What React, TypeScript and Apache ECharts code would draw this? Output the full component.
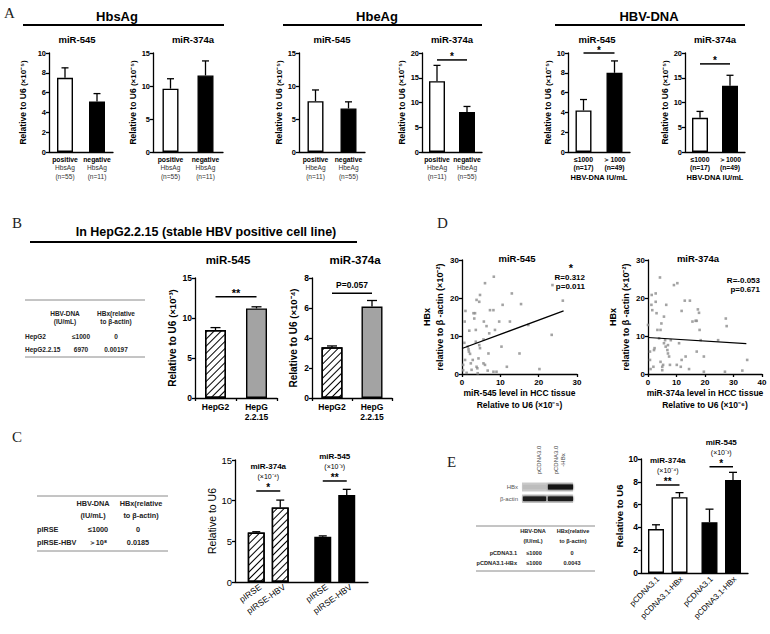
import React, { useEffect, useRef } from 'react';
import * as echarts from 'echarts';

const FONT = '"Liberation Sans", Arial, Helvetica, sans-serif';
const SERIF = '"Liberation Serif", "DejaVu Serif", serif';

// ---------------- Panel A data ----------------
const hbsAgGroups = ['positive', 'negative'];
const hbsAgN = [55, 11];
const hbsAg545Mean = [7.5, 5.1];
const hbsAg545Sem = [1.0, 0.8];
const hbsAg374Mean = [9.6, 11.6];
const hbsAg374Sem = [1.5, 2.2];

const hbeAgGroups = ['positive', 'negative'];
const hbeAgN = [11, 55];
const hbeAg545Mean = [7.7, 6.6];
const hbeAg545Sem = [1.7, 1.0];
const hbeAg374Mean = [14.3, 8.1];
const hbeAg374Sem = [3.2, 1.1];

const dnaGroups = ['≤1000', '＞1000'];
const dnaN = [17, 49];
const dna545Mean = [4.2, 8.0];
const dna545Sem = [1.1, 1.2];
const dna374Mean = [6.9, 13.4];
const dna374Sem = [1.3, 2.1];

// ---------------- Panel B data ----------------
const bCells = ['HepG2', 'HepG\n2.2.15'];
const b545Mean = [8.5, 11.2];
const b545Sem = [0.3, 0.2];
const b374Mean = [3.38, 6.1];
const b374Sem = [0.09, 0.4];

// ---------------- Panel C data ----------------
const cGroups = ['miR-374a', 'miR-545'];
const cVectors = ['pIRSE', 'pIRSE-HBV'];
const cCtrlMean = [6.08, 5.55];
const cCtrlSem = [0.1, 0.12];
const cHbvMean = [9.17, 10.69];
const cHbvSem = [0.9, 0.7];

// ---------------- Panel D data ----------------
const d545Points = [
  [0.3, 2.4], [0.3, 1.0], [0.6, 8.2], [0.9, 16.6], [0.7, 13.8], [0.8, 3.7], [1.9, 11.4], [1.7, 6.5],
  [1.8, 5.9], [2.1, 5.3], [1.5, 7.2], [2.3, 2.8], [2.5, 1.1], [2.8, 3.7], [3.0, 16.0], [3.4, 16.0],
  [3.2, 14.6], [3.6, 11.6], [3.8, 19.5], [4.5, 19.0], [4.7, 20.8], [3.6, 8.5], [3.8, 1.9], [4.0, 1.5],
  [4.3, 4.1], [4.5, 7.6], [4.7, 6.8], [5.6, 9.1], [5.7, 13.8], [6.0, 23.9], [5.6, 2.8], [6.0, 2.4],
  [6.7, 0.9], [6.9, 5.4], [6.4, 12.6], [7.1, 10.7], [7.3, 16.8], [8.2, 16.8], [8.3, 25.6], [8.2, 0.6],
  [9.0, 0.6], [8.6, 11.6], [9.7, 13.8], [10.6, 18.2], [10.3, 7.2], [11.7, 1.9], [12.5, 13.8], [13.0, 21.2],
  [15.0, 5.4], [15.4, 18.4], [17.3, 12.9], [20.2, 1.3], [23.4, 10.3], [23.6, 23.4], [26.3, 19.3],
  [1.2, 0.3], [4.1, 0.2],
];
const d545Fit = [[0, 6.7], [26.5, 16.6]];
const d374Points = [
  [0, 12.9], [0.7, 3.7], [0.9, 1.3], [0.7, 5.9], [1.2, 18.2], [1.3, 20.8], [1.5, 16.8], [1.9, 1.9],
  [2.1, 6.3], [2.7, 21.2], [2.7, 19.0], [2.3, 6.8], [3.0, 16.0], [3.3, 11.6], [3.9, 9.4], [4.2, 25.4],
  [4.4, 11.6], [4.4, 3.2], [4.7, 13.3], [5.0, 1.9], [5.0, 1.0], [5.6, 15.1], [5.6, 8.1], [6.0, 8.9],
  [5.3, 2.4], [6.2, 7.2], [6.4, 18.2], [6.8, 6.3], [7.0, 5.4], [7.4, 4.6], [7.7, 2.4], [8.0, 8.9],
  [7.0, 7.6], [9.1, 23.4], [10.3, 23.9], [10.1, 2.4], [10.9, 8.1], [11.8, 3.7], [11.5, 1.9], [11.8, 16.6],
  [12.9, 19.3], [13.2, 4.6], [14.4, 1.3], [14.7, 19.3], [15.6, 13.8], [16.7, 14.0], [17.1, 14.0], [17.5, 17.0],
  [17.9, 16.1], [18.1, 11.6], [18.5, 8.9], [17.1, 5.9], [19.6, 4.6], [24.6, 8.9], [27.3, 14.6], [27.6, 12.6],
  [27.0, 0.6], [33.1, 0.9], [34.8, 3.7], [19.6, 0.6],
];
const d374Fit = [[0, 9.6], [34.5, 8.0]];

// ---------------- Panel E data ----------------
const eGroups = ['miR-374a', 'miR-545'];
const eVectors = ['pCDNA3.1', 'pCDNA3.1-HBx'];
const eCtrlMean = [3.85, 4.46];
const eCtrlSem = [0.38, 1.14];
const eHbxMean = [6.65, 8.16];
const eHbxSem = [0.4, 0.67];

// ---------------- Tables ----------------
const tableHeader = [['HBV-DNA', '(IU/mL)'], ['HBx(relative', 'to β-actin)']];
const tableBRows = [['HepG2', '≤1000', '0'], ['HepG2.2.15', '6970', '0.00197']];
const tableCRows = [['pIRSE', '≤1000', '0'], ['pIRSE-HBV', '＞10⁸', '0.0185']];
const tableERows = [['pCDNA3.1', '≤1000', '0'], ['pCDNA3.1-HBx', '≤1000', '0.0043']];

// ---------------- styles ----------------
const AX = { color: '#000', width: 1.3 };
const whiteBar = { color: '#fff', borderColor: '#000', borderWidth: 1.4 };
const blackBar = { color: '#000', borderColor: '#000', borderWidth: 1.4 };
const grayBar = { color: '#a3a3a3', borderColor: '#000', borderWidth: 1.4 };
const hatchBar = {
  color: '#fff', borderColor: '#000', borderWidth: 1.4,
  decal: { symbol: 'rect', symbolSize: 1, color: '#000', backgroundColor: '#fff', dashArrayX: [1, 0], dashArrayY: [1, 3.8], rotation: -Math.PI / 4 },
};

function buildOption() {
  const grids: any[] = [];
  const xAxes: any[] = [];
  const yAxes: any[] = [];
  const series: any[] = [];
  const graphics: any[] = [];

  const txt = (text: string, x: number, y: number, size: number, o: any = {}) => ({
    type: 'text', x, y, silent: true, z: 20, rotation: o.rotation || 0,
    style: {
      text, fill: o.color || '#000', fontSize: size, fontWeight: o.weight || 'bold', fontFamily: o.family || FONT,
      textAlign: o.align || 'center', align: o.align || 'center',
      textVerticalAlign: 'middle', verticalAlign: 'middle',
    },
  });
  const hline = (x1: number, x2: number, y: number, w = 1.5, c = '#000') => ({
    type: 'line', silent: true, z: 20, shape: { x1, y1: y, x2, y2: y }, style: { stroke: c, lineWidth: w },
  });

  const errorSeries = (gi: number, means: number[], sems: number[], offset: number, cap: number) => ({
    type: 'custom', xAxisIndex: gi, yAxisIndex: gi, z: 5, silent: true, clip: false,
    data: means.map((m, i) => [i, m, sems[i]]),
    encode: { x: 0, y: 1 },
    renderItem: (params: any, api: any) => {
      const i = api.value(0), m = api.value(1), e = api.value(2);
      const p0 = api.coord([i, m]);
      const p1 = api.coord([i, m + e]);
      const x = p0[0] + offset;
      return {
        type: 'group', children: [
          { type: 'line', shape: { x1: x, y1: p0[1], x2: x, y2: p1[1] }, style: { stroke: '#000', lineWidth: 1.3 } },
          { type: 'line', shape: { x1: x - cap, y1: p1[1], x2: x + cap, y2: p1[1] }, style: { stroke: '#000', lineWidth: 1.3 } },
        ],
      };
    },
  });

  const bracketSeries = (gi: number, brackets: any[], off: number) => ({
    type: 'custom', xAxisIndex: gi, yAxisIndex: gi, z: 6, silent: true, clip: false,
    data: brackets.map((b) => [b.c0, b.y, b.c1]),
    encode: { x: 0, y: 1 },
    renderItem: (params: any, api: any) => {
      const b = brackets[params.dataIndex];
      const pa = api.coord([api.value(0), api.value(1)]);
      const pb = api.coord([api.value(2), api.value(1)]);
      const xa = pa[0] + (b.s0 || 0) * off;
      const xb = pb[0] + (b.s1 || 0) * off;
      const children: any[] = [
        { type: 'line', shape: { x1: xa, y1: pa[1], x2: xb, y2: pa[1] }, style: { stroke: '#000', lineWidth: 1.5 } },
      ];
      b.texts.forEach((t: any) => {
        children.push({
          type: 'text', x: (xa + xb) / 2, y: pa[1] + t.dy,
          style: {
            text: t.text, fill: '#000', fontSize: t.size, fontWeight: t.weight || 'bold', fontFamily: FONT,
            textAlign: 'center', align: 'center', textVerticalAlign: 'middle', verticalAlign: 'middle',
          },
        });
      });
      return { type: 'group', children };
    },
  });

  const addBarPanel = (cfg: any) => {
    const gi = grids.length;
    grids.push({ left: cfg.left, top: cfg.top, width: cfg.width, height: cfg.height, containLabel: false, outerBoundsMode: 'none' });
    xAxes.push({
      gridIndex: gi, type: 'category', data: cfg.cats, boundaryGap: true,
      axisLine: { show: true, onZero: false, lineStyle: AX },
      axisTick: { show: !!cfg.xTick, length: 3, lineStyle: AX },
      axisLabel: cfg.xLabel || { show: false },
      splitLine: { show: false },
      name: cfg.xName || '', nameLocation: 'middle', nameGap: cfg.xNameGap || 0,
      nameTextStyle: { fontSize: 7.5, fontWeight: 'bold', color: '#000', fontFamily: FONT },
    });
    yAxes.push({
      gridIndex: gi, type: 'value', min: 0, max: cfg.yMax, interval: cfg.yInterval,
      axisLine: { show: true, lineStyle: AX },
      axisTick: { show: true, length: 3, lineStyle: AX },
      axisLabel: { fontSize: cfg.yLabelSize, fontWeight: cfg.yLabelWeight || 'bold', color: '#000', margin: 3, fontFamily: FONT },
      splitLine: { show: false },
      name: cfg.yName, nameLocation: 'middle', nameRotate: 90, nameGap: cfg.yNameGap,
      nameTextStyle: {
        fontSize: cfg.yNameSize, fontWeight: cfg.yNameWeight || 'bold', color: '#000', fontFamily: FONT,
        rich: cfg.yNameRich,
      },
    });
    cfg.bars.forEach((b: any) => {
      series.push({
        type: 'bar', name: b.name, xAxisIndex: gi, yAxisIndex: gi, barWidth: cfg.barWidth, barGap: cfg.barGap || '30%',
        data: b.means.map((m: number, i: number) => ({ value: m, itemStyle: b.styles[i] })),
        label: b.label || { show: false }, z: 2, silent: true,
      });
      series.push(errorSeries(gi, b.means, b.sems, b.offset || 0, cfg.cap));
    });
    if (cfg.brackets) series.push(bracketSeries(gi, cfg.brackets, cfg.groupOffset || 0));
  };

  // ---- Panel A ----
  const richA = {
    a: { fontSize: 6.8, fontWeight: 'bold', color: '#000', fontFamily: FONT, lineHeight: 8.5 },
    b: { fontSize: 6.6, color: '#333', fontFamily: FONT, lineHeight: 8.5 },
  };
  const yNameRichA = {
    a: { fontSize: 8.5, fontWeight: 'bold', color: '#000', fontFamily: FONT },
    b: { fontSize: 8, color: '#000', fontFamily: FONT },
  };
  const antigenLabel = (sub: string, n: number[]) => ({
    interval: 0, margin: 3,
    formatter: (v: string, i: number) => `{a|${v}}\n{b|${sub}}\n{b|(n=${n[i]})}`,
    rich: richA,
  });
  const dnaLabel = {
    interval: 0, margin: 3,
    formatter: (v: string, i: number) => `{a|${v}}\n{a|(n=${dnaN[i]})}`,
    rich: richA,
  };
  const aBase = { top: 53, height: 99, barWidth: 16, cap: 3.5, yLabelSize: 7.5, yName: '{a|Relative to U6} {b|(×10⁻⁵)}', yNameRich: yNameRichA, yNameSize: 8.5 };
  const star = [{ text: '*', dy: -3, size: 10 }];
  addBarPanel({ ...aBase, left: 49, width: 64, yMax: 10, yInterval: 2, yNameGap: 21.5, cats: hbsAgGroups, xLabel: antigenLabel('HbsAg', hbsAgN),
    bars: [{ means: hbsAg545Mean, sems: hbsAg545Sem, styles: [whiteBar, blackBar] }] });
  addBarPanel({ ...aBase, left: 153, width: 70, yMax: 15, yInterval: 5, yNameGap: 11, cats: hbsAgGroups, xLabel: antigenLabel('HbsAg', hbsAgN),
    bars: [{ means: hbsAg374Mean, sems: hbsAg374Sem, styles: [whiteBar, blackBar] }] });
  addBarPanel({ ...aBase, left: 299, width: 66, yMax: 15, yInterval: 5, yNameGap: 13, cats: hbeAgGroups, xLabel: antigenLabel('HbeAg', hbeAgN),
    bars: [{ means: hbeAg545Mean, sems: hbeAg545Sem, styles: [whiteBar, blackBar] }] });
  addBarPanel({ ...aBase, left: 422, width: 60, yMax: 20, yInterval: 5, yNameGap: 16, cats: hbeAgGroups, xLabel: antigenLabel('HbeAg', hbeAgN),
    bars: [{ means: hbeAg374Mean, sems: hbeAg374Sem, styles: [whiteBar, blackBar] }],
    brackets: [{ c0: 0, c1: 1, y: 18.6, texts: star }] });
  addBarPanel({ ...aBase, left: 568, width: 62, yMax: 10, yInterval: 2, yNameGap: 14, cats: dnaGroups, xLabel: dnaLabel,
    xName: 'HBV-DNA IU/mL', xNameGap: 21,
    bars: [{ means: dna545Mean, sems: dna545Sem, styles: [whiteBar, blackBar] }],
    brackets: [{ c0: 0, c1: 1, y: 10.0, texts: star }] });
  addBarPanel({ ...aBase, left: 685, width: 60, yMax: 20, yInterval: 5, yNameGap: 14, cats: dnaGroups, xLabel: dnaLabel,
    xName: 'HBV-DNA IU/mL', xNameGap: 21,
    bars: [{ means: dna374Mean, sems: dna374Sem, styles: [whiteBar, blackBar] }],
    brackets: [{ c0: 0, c1: 1, y: 17.8, texts: star }] });

  // ---- Panel B ----
  const yNameRichB = {
    a: { fontSize: 10, fontWeight: 'bold', color: '#000', fontFamily: FONT },
    b: { fontSize: 9.5, color: '#000', fontFamily: FONT },
  };
  const bLabel = { interval: 0, margin: 4, fontSize: 8.5, fontWeight: 'bold', color: '#000', fontFamily: FONT, lineHeight: 10 };
  const bBase = { top: 278, height: 120, barWidth: 21, cap: 5, yLabelSize: 8.5, yNameSize: 10, yNameRich: yNameRichB, cats: bCells, xLabel: bLabel, xTick: true };
  addBarPanel({ ...bBase, left: 195, width: 82, yMax: 15, yInterval: 5, yNameGap: 18, yName: '{a|Relative to U6} {b|(×10⁻³)}',
    bars: [{ means: b545Mean, sems: b545Sem, styles: [hatchBar, grayBar] }],
    brackets: [{ c0: 0, c1: 1, y: 12.65, texts: [{ text: '**', dy: -4, size: 11 }] }] });
  addBarPanel({ ...bBase, left: 312, width: 80, yMax: 8, yInterval: 2, yNameGap: 14, yName: '{a|Relative to U6} {b|(×10⁻⁴)}',
    bars: [{ means: b374Mean, sems: b374Sem, styles: [hatchBar, grayBar] }],
    brackets: [{ c0: 0, c1: 1, y: 6.98, texts: [{ text: 'P=0.057', dy: -8, size: 8.5 }] }] });

  // ---- Panel C ----
  const cLabel = (name: string) => ({
    show: true, position: 'bottom', distance: 7, rotate: 35, align: 'right', verticalAlign: 'middle', offset: [5, 0],
    formatter: name, fontSize: 8.5, color: '#000', fontFamily: FONT,
  });
  const grpTexts = (stars: string, exp: string, name: string) => [
    { text: stars, dy: -3, size: 10 },
    { text: `(×10${exp})`, dy: -14, size: 7, weight: 'normal' },
    { text: name, dy: -24, size: 8 },
  ];
  addBarPanel({
    left: 235, top: 460, width: 133, height: 122, barWidth: 17, barGap: '41%', cap: 4, yMax: 15, yInterval: 5,
    yLabelSize: 9.5, yLabelWeight: 'normal', yName: 'Relative to U6', yNameSize: 10.5, yNameWeight: 'normal', yNameGap: 17,
    cats: cGroups, groupOffset: 12,
    bars: [
      { name: cVectors[0], means: cCtrlMean, sems: cCtrlSem, styles: [hatchBar, blackBar], offset: -12, label: cLabel(cVectors[0]) },
      { name: cVectors[1], means: cHbvMean, sems: cHbvSem, styles: [hatchBar, blackBar], offset: 12, label: cLabel(cVectors[1]) },
    ],
    brackets: [
      { c0: 0, c1: 0, s0: -1, s1: 1, y: 11.19, texts: grpTexts('*', '⁻⁴', cGroups[0]) },
      { c0: 1, c1: 1, s0: -1, s1: 1, y: 12.42, texts: grpTexts('**', '⁻³', cGroups[1]) },
    ],
  });

  // ---- Panel E ----
  const eLabel = (name: string) => ({
    show: true, position: 'bottom', distance: 7, rotate: 45, align: 'right', verticalAlign: 'middle', offset: [3, 0],
    formatter: name, fontSize: 8, color: '#000', fontFamily: FONT,
  });
  addBarPanel({
    left: 641, top: 459, width: 107, height: 114, barWidth: 16, barGap: '47%', cap: 4, yMax: 10, yInterval: 2,
    yLabelSize: 8.5, yName: 'Relative to U6', yNameSize: 9.5, yNameGap: 10,
    cats: eGroups, groupOffset: 11.75,
    bars: [
      { name: eVectors[0], means: eCtrlMean, sems: eCtrlSem, styles: [whiteBar, blackBar], offset: -11.75, label: eLabel(eVectors[0]) },
      { name: eVectors[1], means: eHbxMean, sems: eHbxSem, styles: [whiteBar, blackBar], offset: 11.75, label: eLabel(eVectors[1]) },
    ],
    brackets: [
      { c0: 0, c1: 0, s0: -1, s1: 1, y: 7.72, texts: grpTexts('**', '⁻⁴', eGroups[0]) },
      { c0: 1, c1: 1, s0: -1, s1: 1, y: 9.32, texts: grpTexts('*', '⁻³', eGroups[1]) },
    ],
  });

  // ---- Panel D ----
  const addScatter = (cfg: any) => {
    const gi = grids.length;
    grids.push({ left: cfg.left, top: 260, width: cfg.width, height: 114, containLabel: false, outerBoundsMode: 'none' });
    xAxes.push({
      gridIndex: gi, type: 'value', min: 0, max: cfg.xMax, interval: 10,
      axisLine: { show: true, onZero: false, lineStyle: AX }, axisTick: { show: true, length: 3, lineStyle: AX },
      axisLabel: { fontSize: 8, fontWeight: 'bold', color: '#000', margin: 4, fontFamily: FONT },
      splitLine: { show: false },
      name: cfg.xName, nameLocation: 'middle', nameGap: 13,
      nameTextStyle: { fontSize: 8.5, fontWeight: 'bold', color: '#000', fontFamily: FONT, lineHeight: 12 },
    });
    yAxes.push({
      gridIndex: gi, type: 'value', min: 0, max: 30, interval: 10,
      axisLine: { show: true, onZero: false, lineStyle: AX }, axisTick: { show: true, length: 3, lineStyle: AX },
      axisLabel: { fontSize: 8, fontWeight: 'bold', color: '#000', margin: 3, fontFamily: FONT },
      splitLine: { show: false },
      name: 'HBx\nrelative to β -actin (×10⁻²)', nameLocation: 'middle', nameRotate: 90, nameGap: cfg.yNameGap,
      nameTextStyle: { fontSize: 9, fontWeight: 'bold', color: '#000', fontFamily: FONT, lineHeight: 13 },
    });
    series.push({
      type: 'scatter', xAxisIndex: gi, yAxisIndex: gi, data: cfg.points, symbol: 'rect', symbolSize: 2.6,
      itemStyle: { color: '#8c8c8c' }, silent: true, z: 3,
    });
    series.push({
      type: 'line', xAxisIndex: gi, yAxisIndex: gi, data: cfg.fit, showSymbol: false, symbol: 'none',
      lineStyle: { color: '#000', width: 1.2 }, silent: true, z: 4,
    });
  };
  addScatter({ left: 462, width: 115, xMax: 30, points: d545Points, fit: d545Fit, yNameGap: 15,
    xName: 'miR-545 level in HCC tissue\nRelative to U6 (×10⁻⁵)' });
  addScatter({ left: 648, width: 114, xMax: 40, points: d374Points, fit: d374Fit, yNameGap: 14,
    xName: 'miR-374a level in HCC tissue\nRelative to U6 (×10⁻⁶)' });

  // ---- Graphics: letters, headings, titles ----
  const letter = (t: string, x: number, y: number) => txt(t, x, y, 15, { weight: 'normal', family: SERIF, align: 'left', color: '#222' });
  graphics.push(letter('A', 4, 13), letter('B', 12, 223), letter('C', 12, 437), letter('D', 437, 223), letter('E', 447, 462));
  graphics.push(txt('HbsAg', 117, 16, 13), txt('HbeAg', 377, 16, 13), txt('HBV-DNA', 649, 16, 13));
  graphics.push(hline(23, 224, 25, 1.8), hline(283, 482, 25, 1.8), hline(555, 745, 25, 1.8));
  [['miR-545', 77], ['miR-374a', 193], ['miR-545', 332], ['miR-374a', 452], ['miR-545', 597], ['miR-374a', 715]]
    .forEach(([t, x]) => graphics.push(txt(t as string, x as number, 39, 9.5)));
  graphics.push(txt('In HepG2.2.15 (stable HBV positive cell line)', 206, 232, 12.5));
  graphics.push(hline(30, 357, 242, 1.8));
  graphics.push(txt('miR-545', 228, 260, 11.5), txt('miR-374a', 355, 260, 11.5));
  graphics.push(txt('miR-545', 517, 258, 9.5), txt('miR-374a', 698, 258, 9.5));
  graphics.push(txt('*', 571, 268, 11), txt('R=0.312', 585, 277, 8, { align: 'right' }), txt('p=0.011', 585, 286, 8, { align: 'right' }));
  graphics.push(txt('R=-0.053', 760, 280, 8, { align: 'right' }), txt('p=0.671', 760, 289, 8, { align: 'right' }));

  // ---- Tables ----
  const addTable = (t: any) => {
    graphics.push(hline(t.x1, t.x2, t.top, 1, '#8a8a8a'), hline(t.x1, t.x2, t.bottom, 1, '#8a8a8a'));
    const hc = { color: '#222' };
    graphics.push(txt(tableHeader[0][0], t.c2h, t.h1, t.size, hc), txt(tableHeader[0][1], t.c2h, t.h2, t.size, hc));
    graphics.push(txt(tableHeader[1][0], t.c3h, t.h1, t.size, hc), txt(tableHeader[1][1], t.c3h, t.h2, t.size, hc));
    t.rows.forEach((r: string[], i: number) => {
      graphics.push(txt(r[0], t.c1, t.ry[i], t.size, { ...hc, align: t.c1Align }));
      graphics.push(txt(r[1], t.c2, t.ry[i], t.size, hc));
      graphics.push(txt(r[2], t.c3, t.ry[i], t.size, hc));
    });
  };
  addTable({ x1: 25, x2: 145, top: 300, bottom: 357, h1: 313, h2: 321, ry: [336, 349], c1: 25, c1Align: 'left', c2h: 65, c2: 81, c3h: 116, c3: 116, size: 6.5, rows: tableBRows });
  addTable({ x1: 37, x2: 168, top: 496, bottom: 551, h1: 503, h2: 515, ry: [529, 542], c1: 37, c1Align: 'left', c2h: 93, c2: 98, c3h: 141, c3: 138, size: 7.3, rows: tableCRows });
  addTable({ x1: 476, x2: 595, top: 526, bottom: 571, h1: 531, h2: 541, ry: [553, 563], c1: 517, c1Align: 'right', c2h: 533, c2: 534, c3h: 573, c3: 572, size: 5.6, rows: tableERows });

  // ---- Western blot (panel E) ----
  const blotLbl = { weight: 'normal', color: '#444', rotation: Math.PI / 2 };
  graphics.push(txt('pCDNA3.0', 539, 460, 6, blotLbl));
  graphics.push(txt('pCDNA3.0', 556, 460, 6, blotLbl), txt('-HBx', 563, 460, 6, blotLbl));
  graphics.push(txt('HBx', 518, 487, 6, { weight: 'normal', color: '#555', align: 'right' }));
  graphics.push(txt('β-actin', 518, 499, 6, { weight: 'normal', color: '#555', align: 'right' }));
  graphics.push({ type: 'rect', silent: true, z: 19, shape: { x: 522, y: 482.5, width: 51, height: 9 }, style: { fill: '#cbcbcb' } });
  graphics.push({ type: 'rect', silent: true, z: 19, shape: { x: 522, y: 494.5, width: 51, height: 8.5 }, style: { fill: '#cbcbcb' } });
  graphics.push({ type: 'rect', silent: true, z: 20, shape: { x: 523, y: 485, width: 23, height: 4 }, style: { fill: '#bdbdbd', shadowBlur: 2, shadowColor: '#bbb' } });
  graphics.push({ type: 'rect', silent: true, z: 20, shape: { x: 548, y: 484.5, width: 25, height: 5 }, style: { fill: '#141414', shadowBlur: 2, shadowColor: '#333' } });
  graphics.push({ type: 'rect', silent: true, z: 20, shape: { x: 523, y: 496.5, width: 23, height: 4.5 }, style: { fill: '#1c1c1c', shadowBlur: 2, shadowColor: '#333' } });
  graphics.push({ type: 'rect', silent: true, z: 20, shape: { x: 548, y: 496.5, width: 25, height: 4.5 }, style: { fill: '#1c1c1c', shadowBlur: 2, shadowColor: '#333' } });

  return {
    animation: false,
    backgroundColor: '#fff',
    textStyle: { fontFamily: FONT },
    grid: grids,
    xAxis: xAxes,
    yAxis: yAxes,
    series,
    graphic: { elements: graphics },
  };
}

export default function App() {
  const ref = useRef<HTMLDivElement>(null);
  useEffect(() => {
    if (!ref.current) return;
    const chart = echarts.init(ref.current, null, { renderer: 'svg' });
    chart.setOption(buildOption() as any);
    return () => chart.dispose();
  }, []);
  return <div ref={ref} style={{ position: 'fixed', left: 0, top: 0, width: 770, height: 634, background: '#fff' }} />;
}
